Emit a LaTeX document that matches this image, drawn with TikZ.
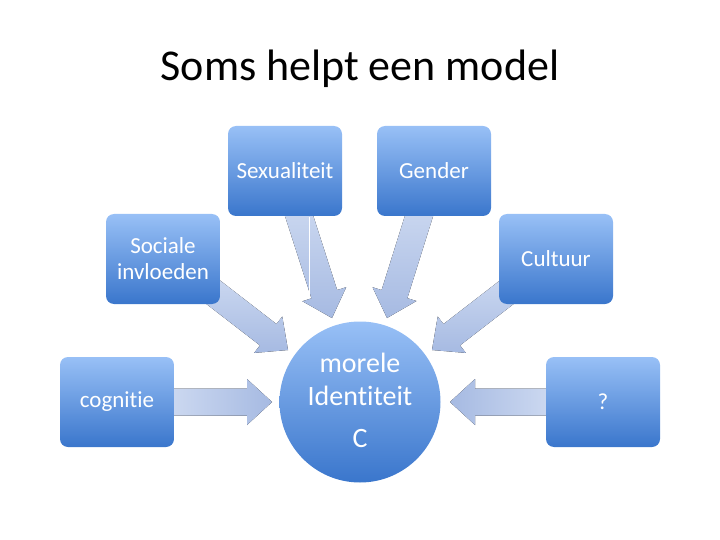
\documentclass[tikz,border=0pt]{standalone}
\usepackage{fontspec}
\setmainfont{Carlito}[Ligatures={NoCommon}]
\usetikzlibrary{calc}
\definecolor{boxtop}{RGB}{152,192,246}
\definecolor{boxbot}{RGB}{58,118,204}
\definecolor{arrtop}{RGB}{206,218,241}
\definecolor{arrbot}{RGB}{166,186,226}
\tikzset{
  blk/.style={rounded corners=8pt, minimum width=114pt, minimum height=90pt,
    top color=boxtop, bottom color=boxbot, draw=none, text=white,
    font=\fontsize{23}{26}\selectfont, align=center, inner sep=0pt},
  hub/.style={circle, minimum size=161pt, top color=boxtop, bottom color=boxbot,
    draw=none, inner sep=0pt},
  hubtxt/.style={text=white, anchor=base, inner sep=0pt, font=\fontsize{28}{32}\selectfont},
  arr/.style={draw=none, top color=arrtop, bottom color=arrbot},
  arrh/.style={draw=none, left color=arrtop, right color=arrbot},
  arrhr/.style={draw=none, left color=arrbot, right color=arrtop},
}
\newcommand\blockarrow[3]{%
  \coordinate (#1-#2-h) at ($(#2)!25pt!(#1)$);
  \fill[#3] ($(#1)!13.5pt!90:(#2)$) -- ($(#1-#2-h)!13.5pt!-90:(#1)$) --
    ($(#1-#2-h)!23pt!-90:(#1)$) -- (#2) -- ($(#1-#2-h)!23pt!90:(#1)$) --
    ($(#1-#2-h)!13.5pt!90:(#1)$) -- ($(#1)!13.5pt!-90:(#2)$) -- cycle;}
\begin{document}
\begin{tikzpicture}[x=1pt,y=-1pt]
\useasboundingbox (0,0) rectangle (720,540);
\node[font=\fontsize{44}{50}\selectfont, anchor=base] (title) at (360,81) {Soms helpt een model};
% arrow coordinates
\coordinate (s1) at (294,200); \coordinate (t1) at (332,318);
\coordinate (s2) at (424,200); \coordinate (t2) at (387,318);
\coordinate (s3) at (200,282); \coordinate (t3) at (288,350);
\coordinate (s4) at (520,282); \coordinate (t4) at (432,350);
\coordinate (s5) at (165,402); \coordinate (t5) at (272,402);
\coordinate (s6) at (555,402); \coordinate (t6) at (450,402);
\blockarrow{s1}{t1}{arr}
\blockarrow{s2}{t2}{arr}
\blockarrow{s3}{t3}{arr}
\blockarrow{s4}{t4}{arr}
\blockarrow{s5}{t5}{arrh}
\blockarrow{s6}{t6}{arrhr}
\coordinate (wl1) at (309,217); \coordinate (wl2) at (309,297);
\draw[white, line width=0.8pt] (wl1) -- (wl2);
% boxes
\node[blk] (sex) at (285,171) {Sexualiteit};
\node[blk] (gen) at (434,171) {Gender};
\node[blk] (soc) at (163,259) {Sociale\\invloeden};
\node[blk] (cul) at (556,259) {Cultuur};
\node[blk] (cog) at (117,402) {cognitie};
\node[blk] (q) at (603,402) {?};
% hub
\node[hub] (hub) at (360,402) {};
\node[hubtxt] (h1) at (360,372) {morele};
\node[hubtxt] (h2) at (360,405) {Identiteit};
\node[hubtxt] (h3) at (360,447) {C};
\end{tikzpicture}
\end{document}
